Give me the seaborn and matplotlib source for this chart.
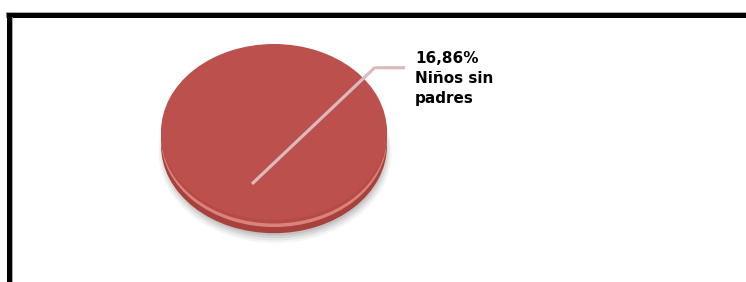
import matplotlib.pyplot as plt
import seaborn as sns
from matplotlib.lines import Line2D

# datos del grafico
categorias = ["Niños sin\npadres"]
porcentajes = [16.86]
colores = ["#BC504C"]

sns.set_theme(style="white")
plt.rcParams['font.family'] = ['DejaVu Sans']

W, H = 746, 282
fig = plt.figure(figsize=(W / 100, H / 100), dpi=100)
fig.patch.set_facecolor("white")

# eje del pastel (elipse: 226 x 176 px, centro en 274,132)
cx, cy, rx, ry = 274, 132, 113, 88
ax = fig.add_axes([(cx - rx) / W, (H - cy - ry) / H, 2 * rx / W, 2 * ry / H])
ax.axis("off")

# sombra difusa
for i, a in enumerate([0.06, 0.08, 0.10, 0.12]):
    ax.pie(porcentajes, colors=["#444444"], radius=1.03 - i * 0.015,
           center=(0.01, -0.23 + i * 0.012), wedgeprops={"alpha": a, "linewidth": 0})
# lateral del disco
ax.pie(porcentajes, colors=["#A8403C"], radius=1.0, center=(0, -0.15),
       wedgeprops={"linewidth": 0})
# brillo del borde
ax.pie(porcentajes, colors=["#DA837E"], radius=1.0, center=(0, -0.08),
       wedgeprops={"linewidth": 0})
ax.pie(porcentajes, colors=["#B84A44"], radius=1.0, center=(0, -0.04),
       wedgeprops={"linewidth": 0})
# cara superior
ax.pie(porcentajes, colors=colores, radius=1.0, center=(0, 0),
       wedgeprops={"linewidth": 0})
ax.set_aspect("auto")
ax.set_xlim(-1, 1)
ax.set_ylim(-1, 1)

# linea guia y etiqueta
etiqueta = f"{porcentajes[0]:.2f}".replace(".", ",") + "%\n" + categorias[0]
ax.plot([-0.195, 0.89, 1.16], [-0.59, 0.73, 0.73], color="#DABABA",
        linewidth=2.3, solid_capstyle="butt", clip_on=False)
ax.text(1.25, 0.92, etiqueta, fontsize=11, fontweight="bold", color="black",
        ha="left", va="top", linespacing=1.4, clip_on=False)

# marco negro (izquierda y arriba)
fig.add_artist(Line2D([8.5 / W, 8.5 / W], [0, 1 - 12 / H], color="black",
                      linewidth=3.6, transform=fig.transFigure, solid_capstyle="butt"))
fig.add_artist(Line2D([6 / W, 1], [1 - 14.5 / H, 1 - 14.5 / H], color="black",
                      linewidth=3.6, transform=fig.transFigure, solid_capstyle="butt"))
fig.add_artist(Line2D([11.5 / W, 11.5 / W], [0, 1 - 17 / H], color="#AAAAAA",
                      linewidth=0.7, transform=fig.transFigure))
fig.add_artist(Line2D([6 / W, 1], [1 - 11.5 / H, 1 - 11.5 / H], color="#AAAAAA",
                      linewidth=0.7, transform=fig.transFigure))

fig.savefig("out.png", dpi=100)
